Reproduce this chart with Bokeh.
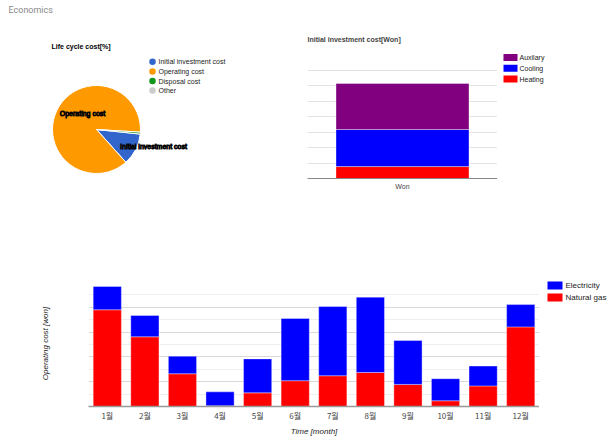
import numpy as np
from bokeh.plotting import figure
from bokeh.models import Range1d, FactorRange, FixedTicker, ColumnDataSource
from bokeh.core.properties import value
from bokeh.embed import file_html
from bokeh.resources import INLINE

FONT = "Liberation Sans"

# ---------------- data ----------------
lcc_labels = ["Initial investment cost", "Operating cost", "Disposal cost", "Other"]
lcc_values = [11.7, 87.6, 0.7, 0.0]
lcc_colors = ["#3366cc", "#ff9900", "#109618", "#cccccc"]

inv_cat = ["Won"]
inv_series = ["Heating", "Cooling", "Auxilary"]
inv_colors = ["#ff0000", "#0000ff", "#800080"]
inv_heating = [0.77]
inv_cooling = [2.39]
inv_aux = [2.97]

months = ["1월", "2월", "3월", "4월", "5월", "6월", "7월", "8월", "9월", "10월", "11월", "12월"]
op_series = ["Natural gas", "Electricity"]
op_colors = ["#ff0000", "#0000ff"]
gas = [3.90, 2.81, 1.32, 0.03, 0.55, 1.04, 1.24, 1.37, 0.89, 0.23, 0.83, 3.21]
elec = [0.94, 0.86, 0.71, 0.56, 1.37, 2.51, 2.79, 3.04, 1.77, 0.89, 0.80, 0.90]


def place(left, top):
    return {"position": "absolute", "left": f"{left}px", "top": f"{top}px"}


def blank(w, h, left, top):
    f = figure(width=w, height=h, x_range=Range1d(0, w), y_range=Range1d(0, h),
               output_backend="svg", toolbar_location=None, min_border=0,
               styles=place(left, top))
    f.axis.visible = False
    f.grid.visible = False
    f.outline_line_color = None
    return f


# ---------------- Fig A: title + pie ----------------
WA, HA = 300, 240
pa = blank(WA, HA, 0, 0)
pa.text(x=[8], y=[HA - 9.5], text=["Economics"], text_font=value("Roboto"),
        text_font_size="9px", text_color="#888888", text_baseline="middle", text_align="left")
pa.text(x=[51], y=[HA - 46], text=["Life cycle cost[%]"], text_font=value(FONT),
        text_font_size="7px", text_font_style="bold", text_color="#000000",
        text_baseline="middle", text_align="left")

vals = np.array(lcc_values, dtype=float)
frac = vals / vals.sum()
cum = np.concatenate([[0], np.cumsum(frac)])
start0 = np.deg2rad(-6.0)
starts = start0 - cum[:-1] * 2 * np.pi
ends = start0 - cum[1:] * 2 * np.pi
keep = vals > 0
src = ColumnDataSource(dict(start=starts[keep], end=ends[keep],
                            color=[c for c, k in zip(lcc_colors, keep) if k]))
pa.wedge(x=96, y=HA - 129, radius=44, radius_units="screen", start_angle="start", end_angle="end",
         direction="clock", fill_color="color", line_color="white", line_width=1, source=src)

# legend of the pie
ly = [HA - 61.3 - i * 9.6 for i in range(len(lcc_labels))]
pa.scatter(x=[152] * len(lcc_labels), y=ly, size=6.5, marker="circle",
           fill_color=lcc_colors, line_color=None)
pa.text(x=[158] * len(lcc_labels), y=ly, text=lcc_labels, text_font=value(FONT),
        text_font_size="7px", text_color="#222222", text_baseline="middle", text_align="left")

# slice labels
pa.text(x=[82, 153], y=[HA - 113, HA - 146], text=[lcc_labels[1], lcc_labels[0]], text_font=value(FONT),
        text_font_size="7px", text_color="white", text_outline_color="black",
        text_baseline="middle", text_align="center")

# ---------------- Fig B: initial investment ----------------
pb = figure(width=197, height=HA, x_range=FactorRange(*inv_cat), y_range=Range1d(0, 8),
            output_backend="svg", toolbar_location=None, styles=place(300, 0),
            min_border_left=7, min_border_right=0, min_border_top=54, min_border_bottom=62)
pb.title.text = "Initial investment cost[Won]"
pb.title.text_font = FONT
pb.title.text_font_size = "7px"
pb.title.text_font_style = "bold"
pb.title.align = "left"
pb.title.standoff = 24
pb.outline_line_color = None
srcb = ColumnDataSource(dict(x=inv_cat, Heating=inv_heating, Cooling=inv_cooling, Auxilary=inv_aux))
pb.vbar_stack(inv_series, x="x", width=0.7, source=srcb,
              color=inv_colors, line_color="white", line_width=0.6, line_alpha=0.6)
pb.yaxis.visible = False
pb.ygrid.ticker = FixedTicker(ticks=list(range(0, 9)))
pb.ygrid.grid_line_color = "#e3e3e3"
pb.xgrid.grid_line_color = None
pb.xaxis.axis_line_color = "#888888"
pb.xaxis.major_tick_line_color = None
pb.xaxis.major_tick_out = 0
pb.xaxis.major_tick_in = 0
pb.xaxis.minor_tick_line_color = None
pb.xaxis.major_label_text_font = FONT
pb.xaxis.major_label_text_font_size = "7px"
pb.xaxis.major_label_text_color = "#444444"
pb.xaxis.major_label_standoff = 4

# legend B
WBL = 117
pbl = blank(WBL, HA, 497, 0)
lb_names = inv_series[::-1]
lb_colors = inv_colors[::-1]
lby = [HA - 57 - i * 10.75 for i in range(len(lb_names))]
pbl.rect(x=[13] * 3, y=lby, width=14, height=7, fill_color=lb_colors, line_color=None)
pbl.text(x=[22] * 3, y=lby, text=lb_names, text_font=value(FONT), text_font_size="7px",
         text_color="#222222", text_baseline="middle", text_align="left")

# ---------------- Fig C: monthly operating cost ----------------
TOPC, HC = 240, 205
pcl = blank(88, HC, 0, TOPC)
pcl.text(x=[45], y=[HC - (343 - TOPC)], text=["Operating cost [won]"], angle=np.pi / 2,
         text_font=value(FONT), text_font_size="8px", text_font_style="italic",
         text_color="#222222", text_baseline="middle", text_align="center")

pc = figure(width=451, height=HC, x_range=FactorRange(*months), y_range=Range1d(0, 5),
            output_backend="svg", toolbar_location=None, styles=place(88, TOPC),
            min_border_left=0, min_border_right=0, min_border_top=42, min_border_bottom=39)
pc.outline_line_color = None
srcc = ColumnDataSource(dict(m=months, gas=gas, elec=elec))
pc.vbar_stack(["gas", "elec"], x="m", width=0.75, source=srcc,
              color=op_colors, line_color="white", line_width=0.6, line_alpha=0.6)
ticker = FixedTicker(ticks=[0, 1, 2, 3, 4, 5], minor_ticks=[0.5, 1.5, 2.5, 3.5, 4.5])
pc.yaxis.visible = False
pc.ygrid.ticker = ticker
pc.ygrid.grid_line_color = "#d9d9d9"
pc.ygrid.minor_grid_line_color = "#eeeeee"
pc.xgrid.grid_line_color = None
pc.xaxis.axis_line_color = "#999999"
pc.xaxis.axis_line_width = 1.5
pc.xaxis.major_tick_line_color = None
pc.xaxis.major_tick_out = 0
pc.xaxis.major_tick_in = 0
pc.xaxis.minor_tick_line_color = None
pc.xaxis.major_label_text_font = "Noto Sans CJK KR"
pc.xaxis.major_label_text_font_size = "8px"
pc.xaxis.major_label_text_color = "#444444"
pc.xaxis.major_label_standoff = 3
pc.xaxis.axis_label = "Time [month]"
pc.xaxis.axis_label_text_font = FONT
pc.xaxis.axis_label_text_font_size = "8px"
pc.xaxis.axis_label_text_font_style = "italic"
pc.xaxis.axis_label_text_color = "#222222"
pc.xaxis.axis_label_standoff = 3

WCL = 75
pcg = blank(WCL, HC, 539, TOPC)
lc_names = op_series[::-1]
lc_colors = op_colors[::-1]
lcy = [HC - (285 - TOPC) - i * 12 for i in range(len(lc_names))]
pcg.rect(x=[15.5] * 2, y=lcy, width=15, height=8, fill_color=lc_colors, line_color=None)
pcg.text(x=[26] * 2, y=lcy, text=lc_names, text_font=value(FONT), text_font_size="8px",
         text_color="#222222", text_baseline="middle", text_align="left")

open("out.html", "w").write(file_html([pa, pb, pbl, pcl, pc, pcg], INLINE))
